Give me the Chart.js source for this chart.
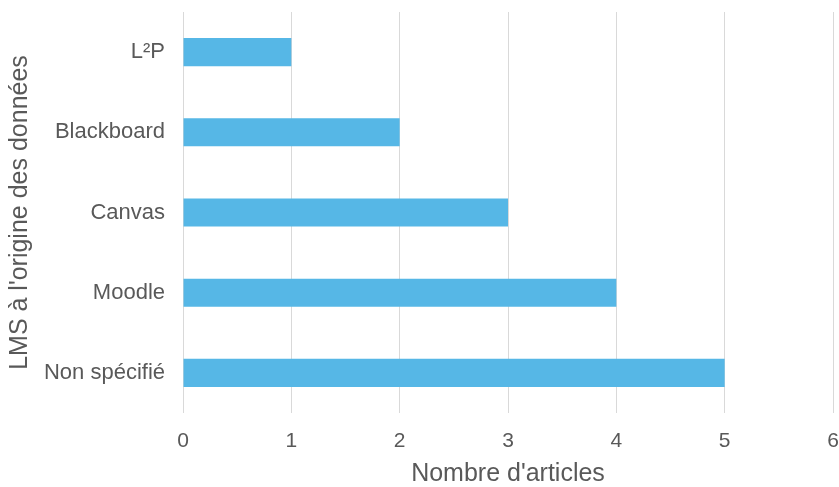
<!DOCTYPE html>
<html>
<head>
<meta charset="utf-8">
<script src="https://cdn.jsdelivr.net/npm/chart.js@4/dist/chart.umd.min.js"></script>
<style>
  html, body { margin: 0; padding: 0; background: #fff; }
  #wrap { width: 839px; height: 487px; }
</style>
</head>
<body>
<div id="wrap"><canvas id="lms-bar"></canvas></div>
<script>
let categories = ["L²P", "Blackboard", "Canvas", "Moodle", "Non spécifié"];
let articles = [1, 2, 3, 4, 5];
let xTicks = [0, 1, 2, 3, 4, 5, 6];

const textColour = "#595959";
const fontFamily = "'Liberation Sans', Arial, sans-serif";

new Chart("lms-bar", {
  type: "bar",
  data: {
    labels: categories,
    datasets: [{
      data: articles,
      backgroundColor: "#56B7E6",
      borderWidth: 0,
      barPercentage: 0.35,
      categoryPercentage: 1
    }]
  },
  options: {
    indexAxis: "y",
    responsive: true,
    maintainAspectRatio: false,
    animation: false,
    layout: { padding: { top: 12, left: 2, right: 6, bottom: 0 } },
    plugins: {
      legend: { display: false },
      tooltip: { enabled: false }
    },
    scales: {
      x: {
        min: 0,
        max: 6,
        afterBuildTicks: scale => {
          scale.ticks = xTicks.map(v => ({ value: v }));
        },
        afterFit: scale => {
          scale.height = 74;
          scale.paddingLeft = 0;
          scale.paddingRight = 0;
        },
        grid: { color: "#D9D9D9", lineWidth: 1, drawTicks: false },
        border: { display: false },
        ticks: {
          padding: 16,
          color: textColour,
          font: { family: fontFamily, size: 21 }
        },
        title: {
          display: true,
          text: "Nombre d'articles",
          color: textColour,
          padding: 0,
          font: { family: fontFamily, size: 25, lineHeight: 1 }
        }
      },
      y: {
        afterFit: scale => {
          scale.width = 181;
          scale.paddingTop = 0;
          scale.paddingBottom = 0;
        },
        grid: { display: false, drawTicks: false },
        border: { display: false },
        ticks: {
          padding: 18,
          color: textColour,
          font: { family: fontFamily, size: 22 }
        },
        title: {
          display: true,
          text: "LMS à l'origine des données",
          color: textColour,
          padding: { top: 6, bottom: 0 },
          font: { family: fontFamily, size: 25, lineHeight: 1 }
        }
      }
    }
  }
});
</script>
</body>
</html>
